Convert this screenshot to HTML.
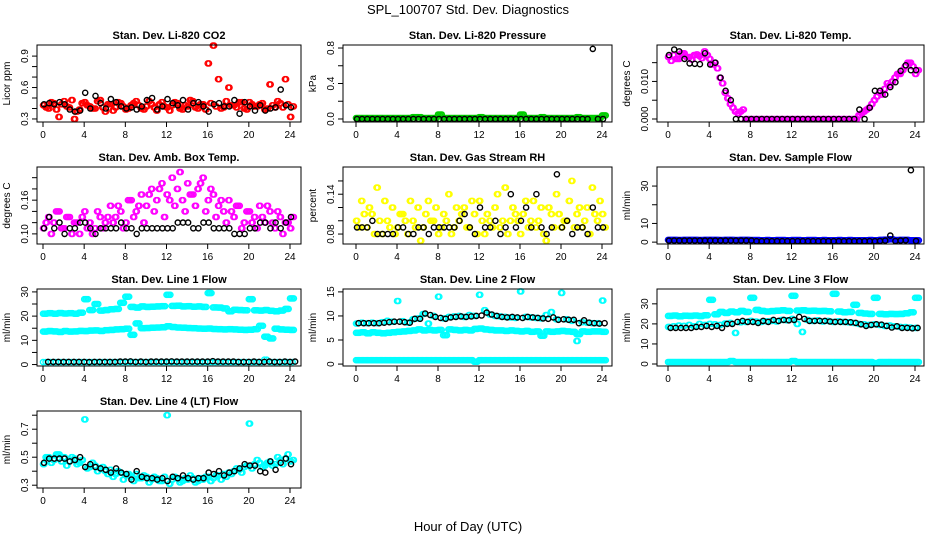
<!DOCTYPE html>
<html><head><meta charset="utf-8">
<style>
html,body{margin:0;padding:0;background:#fff;}
svg{display:block;font-family:"Liberation Sans",Arial,sans-serif;}
</style></head>
<body>
<svg id="chart" width="936" height="540" viewBox="0 0 936 540" xmlns="http://www.w3.org/2000/svg">
<text x="468" y="14" text-anchor="middle" font-size="13">SPL_100707  Std. Dev. Diagnostics</text>
<text x="468" y="531" text-anchor="middle" font-size="13">Hour of Day (UTC)</text>
</svg>
<script>
const hours = [0,0.5,1,1.5,2,2.5,3,3.5,4,4.5,5,5.5,6,6.5,7,7.5,8,8.5,9,9.5,10,10.5,11,11.5,12,12.5,13,13.5,14,14.5,15,15.5,16,16.5,17,17.5,18,18.5,19,19.5,20,20.5,21,21.5,22,22.5,23,23.5,24];
const xTicks = [0,4,8,12,16,20,24];

const co2A = [0.43,0.40,0.45,0.32,0.47,0.41,0.30,0.39,0.46,0.42,0.40,0.48,0.37,0.44,0.41,0.45,0.39,0.43,0.47,0.40,0.42,0.44,0.38,0.46,0.41,0.43,0.45,0.39,0.42,0.47,0.40,0.44,0.83,1.00,0.68,0.41,0.60,0.43,0.46,0.40,0.46,0.42,0.44,0.39,0.63,0.41,0.45,0.68,0.32];
const co2B = [0.41,0.46,0.39,0.44,0.42,0.48,0.37,0.45,0.43,0.40,0.47,0.41,0.44,0.38,0.46,0.42,0.40,0.45,0.43,0.39,0.47,0.41,0.44,0.42,0.38,0.46,0.40,0.43,0.48,0.41,0.44,0.39,0.45,0.42,0.40,0.47,0.43,0.41,0.46,0.39,0.44,0.42,0.45,0.40,0.43,0.47,0.41,0.44,0.42];
const co2K = [0.44,0.45,0.44,0.46,0.44,0.39,0.37,0.38,0.55,0.40,0.52,0.45,0.40,0.49,0.46,0.42,0.40,0.41,0.39,0.42,0.48,0.50,0.39,0.42,0.49,0.45,0.43,0.48,0.39,0.45,0.46,0.42,0.37,0.44,0.45,0.42,0.42,0.48,0.35,0.46,0.42,0.38,0.43,0.38,0.40,0.41,0.58,0.43,0.41];

const presA = [0.01,0.01,0.01,0.01,0.01,0.01,0.01,0.01,0.01,0.01,0.01,0.02,0.02,0.01,0.01,0.01,0.05,0.01,0.01,0.01,0.01,0.01,0.01,0.01,0.02,0.01,0.01,0.01,0.01,0.01,0.01,0.01,0.05,0.01,0.01,0.01,0.02,0.01,0.01,0.01,0.01,0.01,0.01,0.02,0.01,0.01,0.01,0.01,0.04];
const presK = [0.00,0.00,0.00,0.00,0.00,0.00,0.00,0.00,0.00,0.00,0.00,0.00,0.00,0.00,0.00,0.00,0.00,0.00,0.00,0.00,0.00,0.00,0.00,0.00,0.00,0.00,0.00,0.00,0.00,0.00,0.00,0.00,0.00,0.00,0.00,0.00,0.00,0.00,0.00,0.00,0.00,0.00,0.00,0.00,0.00,0.00,0.79,0.00,0.00];

const tempA = [0.0165,0.0170,0.0160,0.0175,0.0165,0.0170,0.0168,0.0180,0.0160,0.0150,0.0110,0.0070,0.0040,0.0020,0.0020,0,0,0,0,0,0,0,0,0,0,0,0,0,0,0,0,0,0,0,0,0,0,0.0010,0.0020,0.0030,0.0050,0.0070,0.0080,0.0090,0.0110,0.0120,0.0140,0.0150,0.0120];
const tempB = [0.0155,0.0160,0.0175,0.0165,0.0158,0.0172,0.0162,0.0170,0.0145,0.0135,0.0095,0.0055,0.0030,0.0015,0.0025,0,0,0,0,0,0,0,0,0,0,0,0,0,0,0,0,0,0,0,0,0,0,0.0015,0.0025,0.0040,0.0060,0.0065,0.0095,0.0100,0.0120,0.0130,0.0150,0.0140,0.0130];
const tempK = [0.0170,0.0185,0.0180,0.0160,0.0148,0.0147,0.0146,0.0175,0.0145,0.0150,0.0110,0.0075,0.0050,0,0,0,0,0,0,0,0,0,0,0,0,0,0,0,0,0,0,0,0,0,0,0,0,0.0025,0,0.0030,0.0075,0.0075,0.0065,0.0085,0.0098,0.0128,0.0143,0.0130,0.0130];

const ambA = [0.11,0.13,0.12,0.14,0.11,0.13,0.12,0.10,0.14,0.12,0.11,0.13,0.12,0.15,0.13,0.14,0.12,0.16,0.14,0.17,0.15,0.18,0.16,0.19,0.17,0.20,0.18,0.16,0.19,0.17,0.18,0.20,0.16,0.17,0.15,0.14,0.16,0.13,0.15,0.12,0.14,0.13,0.15,0.12,0.14,0.11,0.13,0.12,0.11];
const ambB = [0.12,0.10,0.14,0.11,0.13,0.10,0.12,0.13,0.11,0.10,0.14,0.11,0.13,0.12,0.15,0.11,0.16,0.13,0.15,0.12,0.17,0.14,0.18,0.13,0.16,0.15,0.21,0.14,0.17,0.15,0.19,0.14,0.18,0.13,0.16,0.12,0.14,0.15,0.11,0.14,0.12,0.11,0.13,0.15,0.12,0.14,0.10,0.12,0.13];
const ambK = [0.11,0.13,0.11,0.12,0.10,0.11,0.11,0.12,0.12,0.11,0.10,0.11,0.11,0.11,0.11,0.12,0.11,0.11,0.10,0.11,0.11,0.11,0.11,0.11,0.11,0.11,0.12,0.12,0.12,0.11,0.11,0.12,0.12,0.11,0.11,0.11,0.11,0.10,0.10,0.10,0.11,0.11,0.12,0.12,0.11,0.12,0.11,0.12,0.13];

const rhA = [0.10,0.13,0.09,0.11,0.15,0.08,0.10,0.12,0.09,0.11,0.08,0.10,0.12,0.09,0.13,0.10,0.08,0.11,0.14,0.09,0.10,0.12,0.09,0.11,0.13,0.08,0.10,0.12,0.09,0.15,0.10,0.11,0.08,0.13,0.10,0.09,0.12,0.07,0.11,0.14,0.09,0.10,0.16,0.11,0.09,0.12,0.15,0.10,0.11];
const rhB = [0.09,0.11,0.12,0.08,0.10,0.13,0.09,0.08,0.11,0.10,0.13,0.09,0.07,0.11,0.10,0.12,0.09,0.10,0.08,0.12,0.11,0.09,0.13,0.08,0.10,0.11,0.09,0.14,0.10,0.08,0.12,0.10,0.11,0.09,0.13,0.10,0.08,0.12,0.09,0.11,0.10,0.13,0.09,0.12,0.10,0.08,0.11,0.13,0.09];
const rhK = [0.09,0.09,0.09,0.10,0.08,0.08,0.08,0.08,0.09,0.09,0.08,0.08,0.09,0.09,0.08,0.09,0.09,0.09,0.09,0.09,0.10,0.11,0.09,0.08,0.12,0.09,0.09,0.10,0.08,0.09,0.14,0.09,0.10,0.12,0.09,0.14,0.09,0.08,0.09,0.17,0.09,0.10,0.08,0.09,0.09,0.08,0.12,0.09,0.09];

const sfA = [1.2,1.2,1.1,1.2,1.2,1.2,1.1,1.2,1.2,1.2,1.1,1.2,1.2,1.1,1.2,1.2,1.1,1.1,1.0,1.1,1.0,1.1,1.1,1.0,1.1,1.1,1.0,1.1,1.1,1.0,1.1,1.0,1.0,1.1,1.0,1.1,1.0,1.0,1.0,1.1,1.0,1.2,1.3,1.5,1.1,1.2,1.2,1.0,1.0];
const sfK = [0.8,0.8,0.8,0.8,0.8,0.8,0.8,0.8,0.8,0.8,0.8,0.8,0.8,0.8,0.8,0.8,0.8,0.5,0.5,0.5,0.5,0.5,0.5,0.5,0.5,0.5,0.5,0.5,0.5,0.5,0.5,0.5,0.5,0.5,0.5,0.5,0.5,0.5,0.5,0.5,0.5,0.6,0.8,3.5,0.6,0.8,1.0,38.5,0.6];

const l1Top = [21.0,21.2,21.0,21.3,21.1,21.2,21.0,21.4,27.0,22.5,25.0,22.3,22.5,22.8,23.0,25.5,28.0,23.8,23.5,24.0,23.8,23.9,24.0,24.1,28.8,24.2,24.3,24.0,24.1,23.9,24.0,23.8,29.5,23.6,23.5,23.2,22.0,22.6,22.5,22.4,27.0,22.4,22.3,22.5,22.2,22.0,22.3,23.0,27.3];
const l1Mid = [13.6,13.8,13.7,13.5,13.8,13.6,13.7,13.9,13.8,14.0,14.1,13.9,14.2,14.3,14.5,14.6,14.8,12.3,17.0,15.0,15.1,15.2,15.3,15.4,15.8,15.5,15.3,15.2,15.1,15.0,14.9,14.8,14.9,14.7,14.6,14.5,14.6,14.5,14.4,14.3,14.4,14.6,16.0,11.5,10.8,14.8,14.5,14.4,14.3];
const l1Bot = [1.0,1.0,1.0,1.0,1.0,1.0,1.0,1.0,1.0,1.0,1.0,1.0,1.0,1.0,1.0,1.0,1.0,1.0,1.0,1.0,1.0,1.0,1.0,1.0,1.0,1.0,1.0,1.0,1.0,1.0,1.0,1.0,1.0,1.0,1.0,1.0,1.0,1.0,1.0,1.0,1.0,1.0,1.0,2.0,1.0,1.0,1.0,1.0,1.0];
const l1K = [1.1,1.1,1.1,1.1,1.1,1.1,1.1,1.1,1.0,1.1,1.1,1.1,1.1,1.1,1.2,1.2,1.3,1.1,1.2,1.1,1.2,1.2,1.2,1.2,1.3,1.2,1.2,1.2,1.2,1.2,1.2,1.2,1.4,1.2,1.2,1.2,1.2,1.1,1.1,1.1,1.2,1.1,1.1,1.2,1.1,1.1,1.2,1.1,1.2];

const l2Top = [8.4,8.6,8.5,8.6,8.5,8.7,9.0,8.8,13.1,8.9,8.6,9.3,9.5,10.4,8.4,10.0,14.0,9.5,9.8,9.9,10.0,9.8,10.2,10.0,14.4,11.2,10.3,10.0,9.9,9.8,9.7,9.6,15.1,9.8,9.7,9.6,9.5,10.2,10.8,9.3,14.8,9.3,9.0,4.8,8.7,8.6,8.5,8.5,13.2];
const l2Mid = [6.5,6.6,6.4,6.6,6.5,6.4,6.5,6.6,6.7,6.8,6.9,7.0,7.2,7.0,7.1,7.0,7.1,6.0,7.2,7.1,7.0,7.1,7.0,7.3,7.4,7.2,7.1,7.0,7.0,6.9,7.0,6.9,6.8,6.9,6.7,6.8,5.9,6.8,6.7,6.8,6.9,6.8,6.7,6.2,6.8,6.7,6.8,6.8,6.7];
const l2Bot = [0.8,0.8,0.8,0.8,0.8,0.8,0.8,0.8,0.8,0.8,0.8,0.8,0.8,0.8,0.8,0.8,0.8,0.8,0.8,0.8,0.8,0.8,0.8,0.5,0.8,0.8,0.8,0.8,0.8,0.8,0.8,0.8,0.8,0.8,0.8,0.8,0.8,0.8,0.8,0.8,0.8,0.8,0.8,0.8,0.8,0.8,0.8,0.8,0.8];
const l2K = [8.5,8.5,8.5,8.5,8.5,8.6,8.7,8.8,8.8,8.7,8.6,9.4,9.4,10.5,10.2,9.8,9.6,9.4,9.7,9.8,9.9,9.8,9.9,10.0,10.1,10.7,10.3,10.0,9.8,9.7,9.8,9.7,9.6,9.8,9.7,9.6,9.5,9.4,9.7,9.2,9.3,9.2,9.2,8.5,9.1,8.6,8.5,8.4,8.5];

const l3Top = [24.0,24.2,23.8,24.1,24.0,24.2,23.9,24.3,32.0,24.8,26.0,25.5,26.2,25.8,26.5,26.0,33.0,27.0,26.5,26.2,26.4,26.6,26.8,26.5,34.0,26.7,26.8,26.5,26.6,26.4,26.5,26.3,35.0,26.2,25.8,26.0,29.5,25.5,25.2,25.0,33.0,25.0,24.8,25.0,24.9,25.0,25.3,25.8,33.0];
const l3Mid = [18.5,18.8,19.2,19.0,19.5,18.8,20.0,19.5,20.0,19.8,19.5,20.2,20.5,15.5,20.8,21.0,21.5,21.2,21.0,21.3,21.5,21.2,22.0,21.8,22.5,20.0,16.0,22.0,21.5,21.8,21.2,21.5,21.0,21.3,21.0,20.8,20.5,20.0,19.8,19.5,19.8,19.5,19.0,19.2,18.8,18.5,18.4,18.2,18.0];
const l3Bot = [1.0,1.0,1.0,1.0,1.0,1.0,1.0,1.0,1.0,1.0,1.0,1.0,1.5,1.0,1.0,1.0,1.0,1.0,1.0,1.0,1.0,1.0,1.0,1.0,1.5,1.0,1.0,1.0,1.0,1.0,1.0,1.0,1.0,1.0,1.0,1.0,1.0,1.0,1.0,1.0,0.5,1.0,1.0,1.0,1.0,1.0,1.0,1.0,1.0];
const l3K = [18.0,18.0,18.0,18.0,18.0,18.5,18.5,19.0,18.5,19.0,18.0,20.0,20.0,21.0,21.5,21.0,21.0,20.5,21.5,21.0,22.0,21.5,22.0,21.8,22.0,23.5,22.5,21.5,21.5,21.5,21.5,21.2,21.0,21.0,21.0,20.8,20.5,19.8,19.0,19.5,19.8,19.6,19.0,18.2,18.8,18.0,18.0,17.8,18.0];

const l4A = [0.45,0.50,0.48,0.52,0.50,0.47,0.49,0.46,0.77,0.43,0.44,0.42,0.40,0.41,0.38,0.39,0.37,0.36,0.38,0.35,0.36,0.34,0.35,0.33,0.80,0.34,0.35,0.33,0.34,0.35,0.33,0.34,0.36,0.35,0.37,0.38,0.39,0.40,0.41,0.43,0.74,0.45,0.46,0.44,0.47,0.45,0.48,0.49,0.47];
const l4B = [0.50,0.46,0.52,0.47,0.44,0.50,0.45,0.48,0.42,0.46,0.40,0.43,0.38,0.36,0.40,0.34,0.38,0.33,0.35,0.37,0.32,0.36,0.33,0.36,0.31,0.36,0.32,0.35,0.37,0.32,0.35,0.36,0.33,0.37,0.34,0.36,0.38,0.42,0.39,0.44,0.42,0.48,0.43,0.46,0.44,0.50,0.45,0.52,0.48];
const l4K = [0.46,0.49,0.49,0.49,0.49,0.47,0.48,0.50,0.43,0.45,0.43,0.42,0.41,0.39,0.42,0.39,0.38,0.34,0.40,0.36,0.35,0.35,0.34,0.35,0.33,0.36,0.35,0.37,0.35,0.34,0.35,0.35,0.39,0.38,0.40,0.37,0.39,0.40,0.42,0.45,0.44,0.44,0.40,0.39,0.47,0.41,0.46,0.49,0.45];

const panels = [
 {name:'co2',title:'Stan. Dev. Li-820 CO2',ylab:'Licor ppm',col:0,row:0,dom:[0.271,1.006],ticks:[0.3,0.4,0.5,0.6,0.7,0.8,0.9],labels:['0.3','0.6','0.9'],series:[[co2A,'#ff0000',[0,0.125]],[co2B,'#ff0000',[0.25,0.375]],[co2K,'#000',[0.1]]]},
 {name:'pressure',title:'Stan. Dev. Li-820 Pressure',ylab:'kPa',col:1,row:0,dom:[-0.034,0.834],ticks:[0,0.2,0.4,0.6,0.8],labels:['0.0','0.4','0.8'],series:[[presA,'#00cc00',[0,0.125,0.25,0.375]],[presK,'#000',[0.1]]]},
 {name:'li820-temp',title:'Stan. Dev. Li-820 Temp.',ylab:'degrees C',col:2,row:0,dom:[-0.0008,0.0197],ticks:[0,0.005,0.010,0.015],labels:['0.000','0.010'],series:[[tempA,'#ff00ff',[0,0.125]],[tempB,'#ff00ff',[0.25,0.375]],[tempK,'#000',[0.1]]]},
 {name:'amb-box-temp',title:'Stan. Dev. Amb. Box Temp.',ylab:'degrees C',col:0,row:1,dom:[0.082,0.219],ticks:[0.10,0.12,0.14,0.16,0.18,0.20],labels:['0.10','0.16'],series:[[ambA,'#ff00ff',[0,0.125]],[ambB,'#ff00ff',[0.25,0.375]],[ambK,'#000',[0.1]]]},
 {name:'gas-stream-rh',title:'Stan. Dev. Gas Stream RH',ylab:'percent',col:1,row:1,dom:[0.065,0.181],ticks:[0.08,0.10,0.12,0.14,0.16],labels:['0.08','0.14'],series:[[rhA,'#ffff00',[0,0.125]],[rhB,'#ffff00',[0.25,0.375]],[rhK,'#000',[0.1]]]},
 {name:'sample-flow',title:'Stan. Dev. Sample Flow',ylab:'ml/min',col:2,row:1,dom:[-1,40.2],ticks:[0,10,20,30],labels:['0','10','30'],series:[[sfA,'#0000ff',[0,0.125,0.25,0.375]],[sfK,'#000',[0.1]]]},
 {name:'line1-flow',title:'Stan. Dev. Line 1 Flow',ylab:'ml/min',col:0,row:2,dom:[-0.6,31.2],ticks:[0,5,10,15,20,25,30],labels:['0','10','20','30'],series:[[l1Top,'#00ffff',[0,0.125,0.25,0.375]],[l1Mid,'#00ffff',[0,0.125,0.25,0.375]],[l1Bot,'#00ffff',[0,0.25]],[l1K,'#000',[0.5]]]},
 {name:'line2-flow',title:'Stan. Dev. Line 2 Flow',ylab:'ml/min',col:1,row:2,dom:[-0.4,15.6],ticks:[0,5,10,15],labels:['0','5','10','15'],series:[[l2Top,'#00ffff',[0,0.125]],[l2Mid,'#00ffff',[0,0.125,0.25,0.375]],[l2Bot,'#00ffff',[0,0.125,0.25,0.375]],[l2K,'#000',[0.25]]]},
 {name:'line3-flow',title:'Stan. Dev. Line 3 Flow',ylab:'ml/min',col:2,row:2,dom:[-1,37.4],ticks:[0,10,20,30],labels:['0','10','20','30'],series:[[l3Top,'#00ffff',[0,0.125,0.25,0.375]],[l3Mid,'#00ffff',[0,0.125]],[l3Bot,'#00ffff',[0,0.125,0.25,0.375]],[l3K,'#000',[0.25]]]},
 {name:'line4-flow',title:'Stan. Dev. Line 4 (LT) Flow',ylab:'ml/min',col:0,row:3,dom:[0.28,0.83],ticks:[0.3,0.4,0.5,0.6,0.7,0.8],labels:['0.3','0.5','0.7'],series:[[l4A,'#00ffff',[0,0.125]],[l4B,'#00ffff',[0.25,0.375]],[l4K,'#000',[0.1]]]}
];
const cols = [{l:37,r:301,x0:43,x24:290},{l:343,r:612,x0:356,x24:602},{l:657,r:924,x0:668,x24:915}];
const rowTops = [45,167,289,411];
const boxH = 77;
const NS='http://www.w3.org/2000/svg';
const svg=document.getElementById('chart');
function mk(tag,attrs,parent){const e=document.createElementNS(NS,tag);for(const k in attrs)e.setAttribute(k,attrs[k]);(parent||svg).appendChild(e);return e;}
panels.forEach(p=>{
  const c=cols[p.col], top=rowTops[p.row], bot=top+boxH;
  const xs=h=>c.x0+(c.x24-c.x0)*h/24;
  const ys=v=>bot-(v-p.dom[0])/(p.dom[1]-p.dom[0])*boxH;
  const g=mk('g',{});
  
  
  const t=mk('text',{x:(c.l+c.r)/2,y:top-6,'text-anchor':'middle','font-size':'11','font-weight':'bold'},g);
  t.textContent=p.title;
  
  
  const pts=mk('g',{fill:'none','stroke-width':'1.4'},g);
  
  
  p.series.forEach(s=>{
    const vals=s[0];
    s[2].forEach(off=>{
      vals.forEach((v,i)=>{
        const x=xs(hours[i]+off);
        if(x>c.r-2)return;
        const ci=mk('circle',{cx:x.toFixed(1),cy:ys(v).toFixed(1),r:'2.6',stroke:s[1]},pts);
        
        
      });
    });
  });
  const box=mk('rect',{x:c.l,y:top,width:c.r-c.l,height:boxH,fill:'none',stroke:'#000','stroke-width':'1'},g);
  
  
  const xa=mk('g',{},g);
  
  
  mk('line',{x1:xs(0),x2:xs(24),y1:bot,y2:bot,stroke:'#000'},xa);
  xTicks.forEach(h=>{
    mk('line',{x1:xs(h),x2:xs(h),y1:bot,y2:bot+5,stroke:'#000'},xa);
    const tl=mk('text',{x:xs(h),y:bot+16,'text-anchor':'middle','font-size':'10'},xa);
    tl.textContent=h;
    
    
  });
  const ya=mk('g',{},g);
  
  
  mk('line',{x1:c.l,x2:c.l,y1:ys(p.ticks[0]),y2:ys(p.ticks[p.ticks.length-1]),stroke:'#000'},ya);
  p.ticks.forEach(v=>{mk('line',{x1:c.l-5,x2:c.l,y1:ys(v),y2:ys(v),stroke:'#000'},ya);});
  p.labels.forEach(lb=>{
    const y=ys(parseFloat(lb));
    const tl=mk('text',{x:c.l-9,y:y,'text-anchor':'middle','font-size':'10',transform:`rotate(-90 ${c.l-9} ${y})`},ya);
    tl.textContent=lb;
    
    
  });
  const yl=mk('text',{x:c.l-27,y:(top+bot)/2,'text-anchor':'middle','font-size':'10',transform:`rotate(-90 ${c.l-27} ${(top+bot)/2})`},g);
  yl.textContent=p.ylab;
  
  
});
</script>
</body></html>
